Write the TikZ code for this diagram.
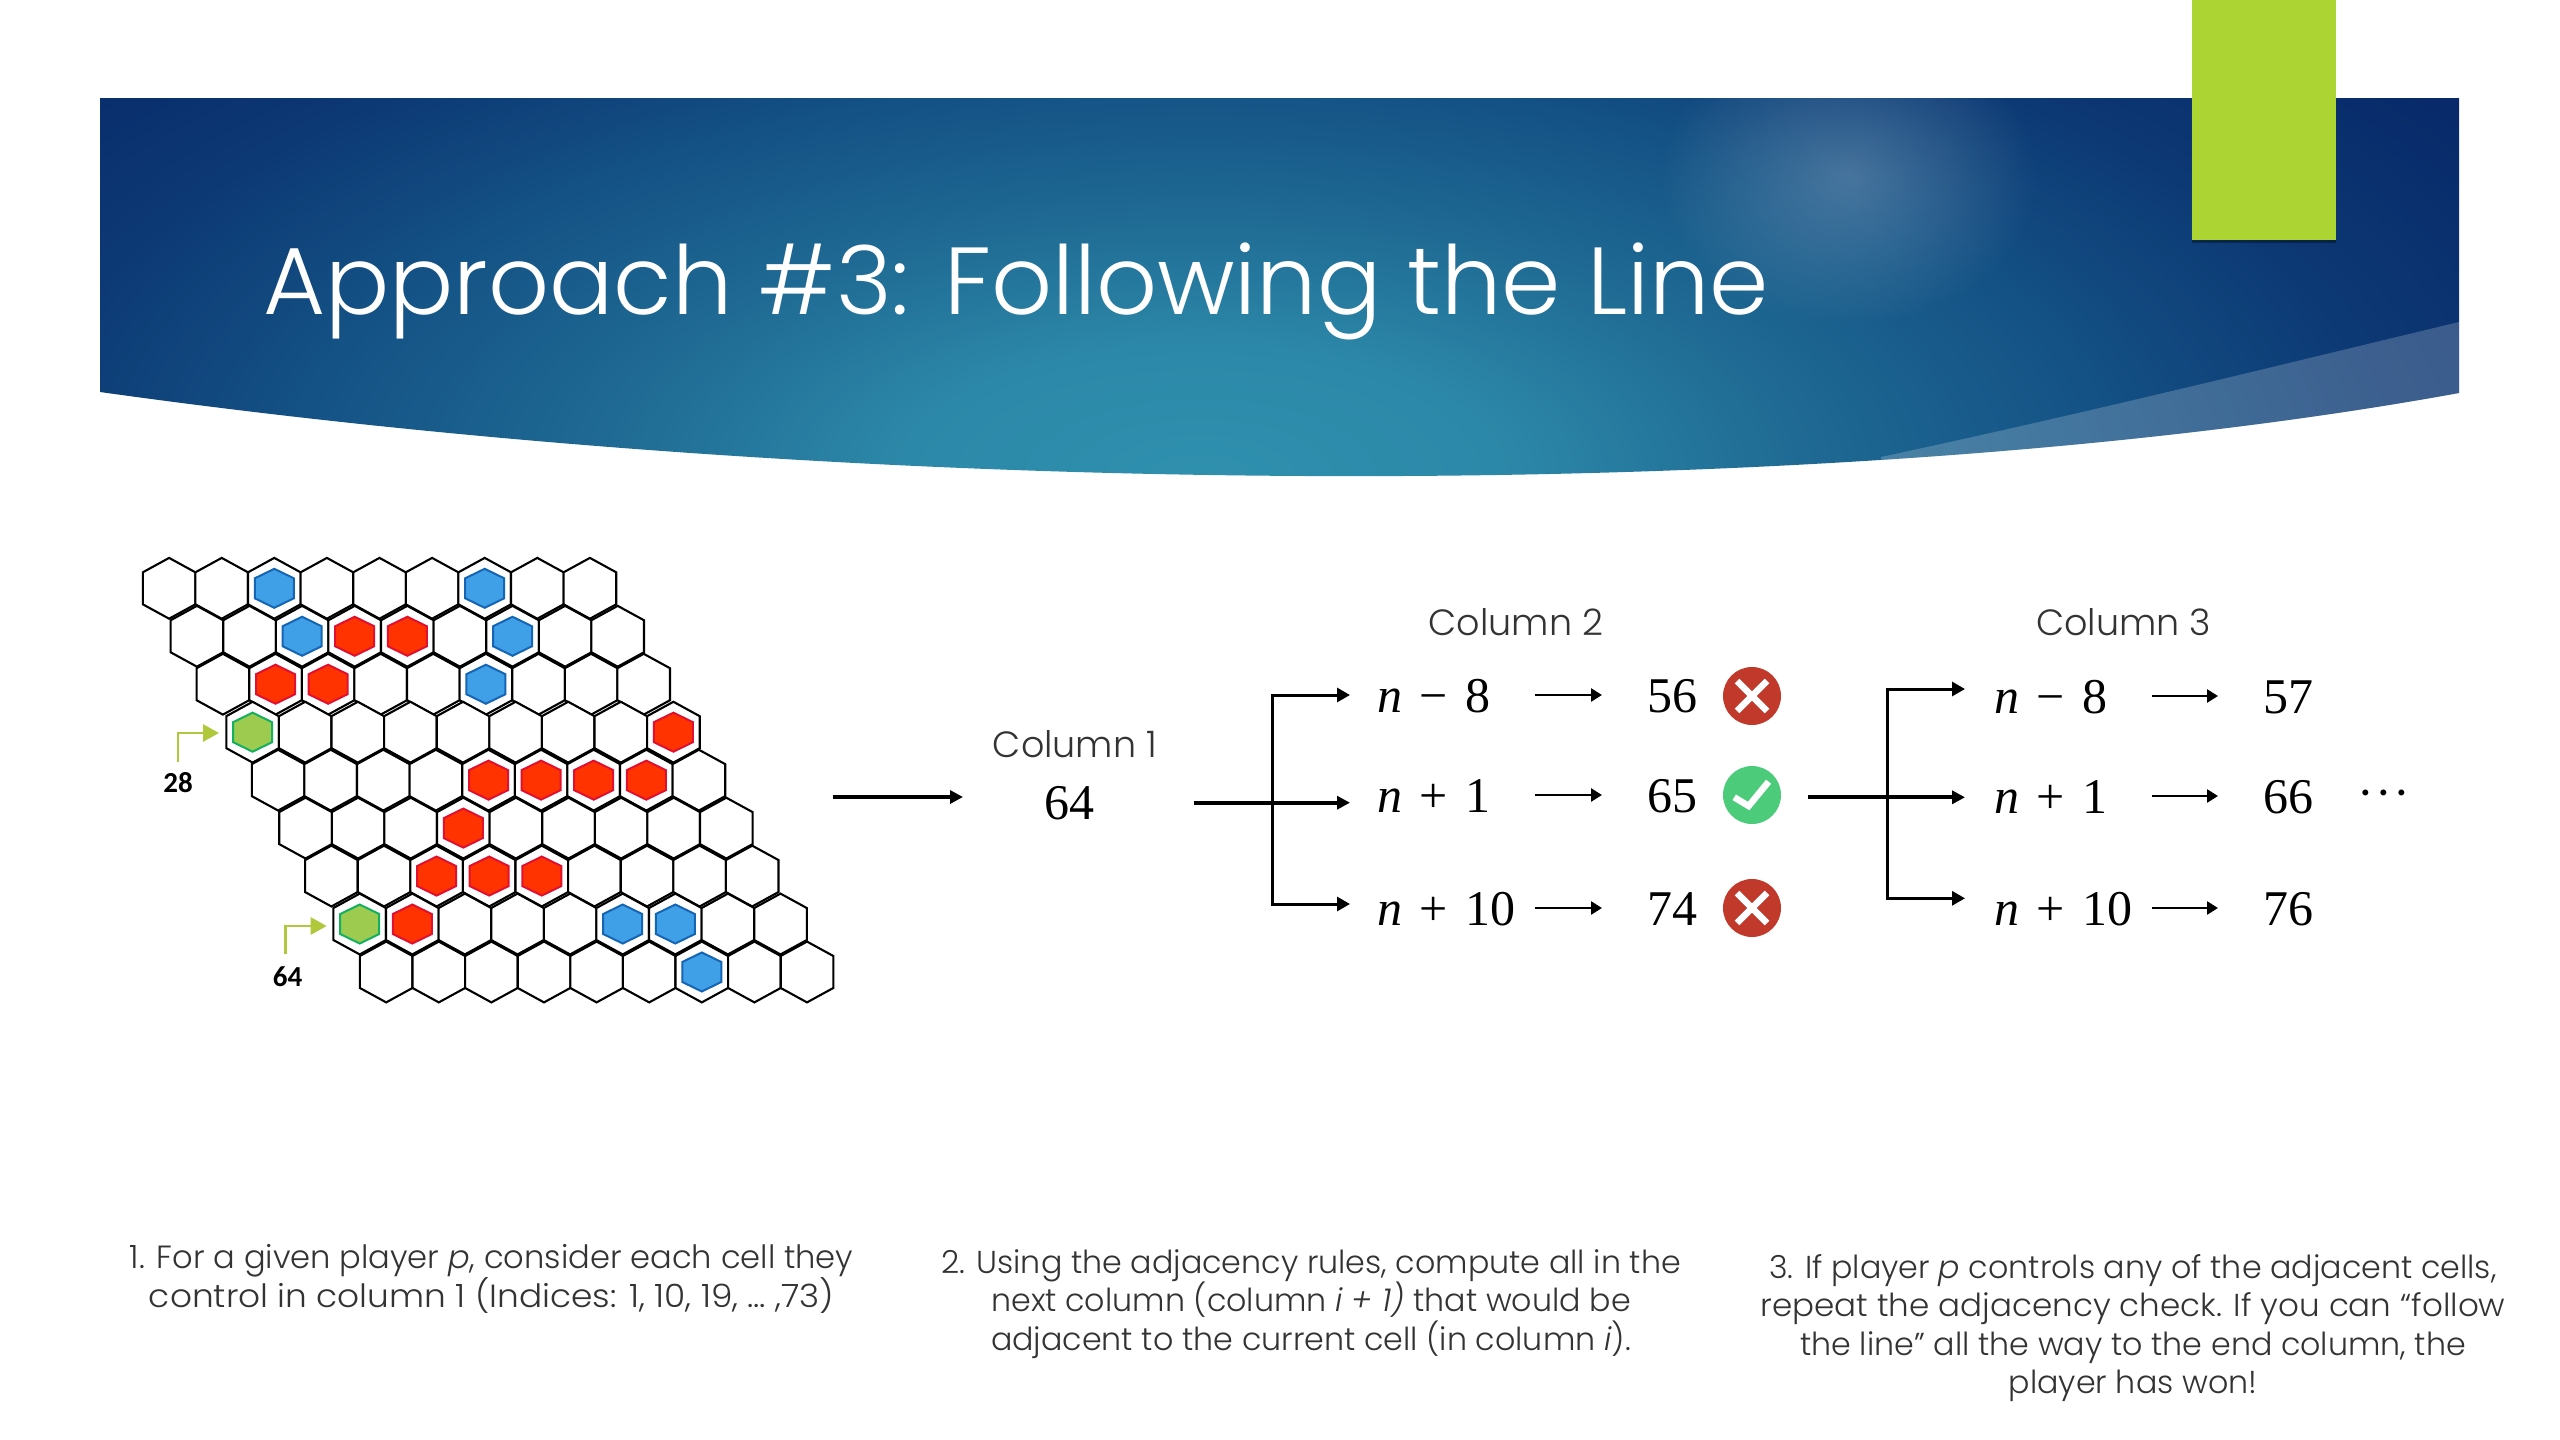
\documentclass[tikz,border=0pt]{standalone}
\usepackage{graphicx}
\usepackage{fontspec}
\usetikzlibrary{arrows.meta,fadings,calc}
\newfontfamily\gothic{Poppins}[UprightFont=* Light,ItalicFont=* Light Italic,BoldFont=*]
\newfontfamily\tagfont{Carlito}[UprightFont=* Bold]
\newfontfamily\numfont{Liberation Serif}
\definecolor{limeb}{HTML}{ACD433}
\definecolor{hexblue}{HTML}{3FA0E8}
\definecolor{hexblueb}{HTML}{1565B5}
\definecolor{hexred}{HTML}{FF3300}
\definecolor{hexredb}{HTML}{E01030}
\definecolor{hexgreen}{HTML}{9CCB50}
\definecolor{hexgreenb}{HTML}{12B060}
\definecolor{arrowlime}{HTML}{B0C83C}
\definecolor{badred}{HTML}{C0392B}
\definecolor{goodgreen}{HTML}{4CCB7A}
\definecolor{inktext}{HTML}{333333}
\definecolor{glowa}{RGB}{47,144,174}
\definecolor{glowb}{RGB}{44,136,168}
\definecolor{glowc}{RGB}{31,106,148}
\definecolor{glowd}{RGB}{20,82,133}
\definecolor{glowe}{RGB}{12,56,115}
\definecolor{glowf}{RGB}{8,42,106}
\pgfdeclareradialshading{bannerglow}{\pgfpoint{0bp}{0bp}}{%
  color(0bp)=(glowa);
  color(5bp)=(glowb);
  color(10bp)=(glowc);
  color(15bp)=(glowd);
  color(20bp)=(glowe);
  color(25bp)=(glowf);
  color(50bp)=(glowf)}
\tikzfading[name=softspot,inner color=transparent!78,outer color=transparent!100]
\newcommand{\varn}{\textit{n}}
\newcommand{\opsp}[1]{\hspace{.35em}#1\hspace{.35em}}
\tikzset{
  x=1pt,y=-1pt,
  every node/.style={inner sep=0pt,outer sep=0pt},
  headlab/.style={font=\gothic\fontsize{36.5}{42}\selectfont,text=inktext,anchor=center},
  bodytext/.style={font=\gothic\fontsize{31.7}{38.5}\selectfont,text=inktext,align=center,anchor=center},
  expr/.style={font=\numfont\fontsize{50}{60}\selectfont,anchor=west,text width=150pt,align=left,text height=34pt,text depth=0pt},
  val/.style={font=\numfont\fontsize{50}{60}\selectfont,anchor=center,minimum width=60pt,text height=34pt,text depth=0pt},
  trunk/.style={line width=4pt,-{Triangle[length=13pt,width=13pt]}},
  bar/.style={line width=3pt,-{Triangle[length=13pt,width=14pt]}},
  small/.style={line width=2.5pt,-{Triangle[length=11pt,width=13pt]},shorten <=8pt,shorten >=40pt},
  icon/.style={circle,minimum size=58pt,anchor=center},
  glyphmark/.style={white,line width=6.5pt},
  hexcell/.style={draw=black,fill=white,line width=2.1pt,line join=miter},
  pointer/.style={arrowlime,line width=2.8pt,-{Triangle[length=16pt,width=17pt]}},
  tag/.style={font=\tagfont\fontsize{29}{34}\selectfont,text=black,anchor=center},
}
\newcommand{\hexpath}[5]{(#1-#3,#2-#5)--(#1,#2-#4)--(#1+#3,#2-#5)--(#1+#3,#2+#5)--(#1,#2+#4)--(#1-#3,#2+#5)--cycle}
\def\rowx{{169.1,196.9,222.9,252.6,278.1,305.5,331.4,359.7,386.2}}
\newcommand{\stone}[4]{%
  \pgfmathsetmacro{\sx}{\rowx[#1-1]+52.6*(#2-1)}%
  \pgfmathsetmacro{\sy}{588.3+47.96*(#1-1)}%
  \draw[fill=#3,draw=#4,line width=2pt] \hexpath{\sx}{\sy}{19.5}{19.5}{10};}
\begin{document}
\begin{tikzpicture}
\useasboundingbox (0,0) rectangle (2560,1440);
\fill[white] (0,0) rectangle (2560,1440);
% banner
\begin{scope}
  \clip (100,98) -- (2459,98) -- (2459,393) .. controls (1850,504) and (900,504) .. (100,392) -- cycle;
  \shade[shading=bannerglow] (-300,-175) rectangle (2700,1125);
  \fill[white,path fading=softspot] (1848,177) ellipse (190 and 150);
  \fill[white,fill opacity=.2] (1881,457) .. controls (2100,410) and (2300,360) .. (2459,322) -- (2459,500) -- (1881,500) -- cycle;
\end{scope}
\fill[black,opacity=.35] (2192,240) rectangle (2336,243);
\fill[limeb] (2192,0) rectangle (2336,240);
\node[font=\gothic\fontsize{95.3}{110}\selectfont,text=white,anchor=base west] (title) at (263,314) {Approach \#3: Following the Line};
% board
\foreach \r in {1,...,9}{
  \foreach \c in {1,...,9}{
    \pgfmathsetmacro{\hx}{\rowx[\r-1]+52.6*(\c-1)}
    \pgfmathsetmacro{\hy}{588.3+47.96*(\r-1)}
    \draw[hexcell] \hexpath{\hx}{\hy}{26.3}{30.4}{16};
  }
}
\foreach \r/\c in {1/3,1/7,2/3,2/7,3/6,8/6,8/7,9/7}{\stone{\r}{\c}{hexblue}{hexblueb}}
\foreach \r/\c in {2/4,2/5,3/2,3/3,4/9,5/5,5/6,5/7,5/8,6/4,7/3,7/4,7/5,8/2}{\stone{\r}{\c}{hexred}{hexredb}}
\foreach \r/\c in {4/1,8/1}{\stone{\r}{\c}{hexgreen}{hexgreenb}}
\coordinate (pa0) at (178,762); \coordinate (pa1) at (219,733);
\coordinate (pb0) at (285.6,954); \coordinate (pb1) at (326.7,926);
\draw[pointer] (pa0) |- (pa1);
\draw[pointer] (pb0) |- (pb1);
\node[tag] (t28) at (178,783) {28};
\node[tag] (t64) at (287.5,977) {64};
% main arrow
\coordinate (ms) at (832.6,797); \coordinate (me) at (963,797);
\draw[trunk] (ms) -- (me);
% column 1
\node[headlab] (c1) at (1075,744) {Column 1};
\node[val] (v64) at (1069,802.7) {64};
% column 2
\node[headlab] (c2) at (1516,622) {Column 2};
\node[expr] (e21) at (1377,695) {\varn\opsp{−}8};
\node[expr] (e22) at (1377,795) {\varn\opsp{+}1};
\node[expr] (e23) at (1377,908) {\varn\opsp{+}10};
\node[val] (v21) at (1672,695) {56};
\node[val] (v22) at (1672,795) {65};
\node[val] (v23) at (1672,908) {74};
\foreach \i in {1,2,3}{\draw[small] (e2\i.east) -- (v2\i.west);}
\node[icon,fill=badred] (i21) at (1752,696) {};
\node[icon,fill=goodgreen] (i22) at (1752,795) {};
\node[icon,fill=badred] (i23) at (1752,908) {};
\foreach \n in {i21,i23}{
  \draw[glyphmark] ($(\n)+(-15,-15)$) -- ($(\n)+(15,15)$);
  \draw[glyphmark] ($(\n)+(-15,15)$) -- ($(\n)+(15,-15)$);
}
\draw[glyphmark] ($(i22)+(-17.8,2.3)$) -- ($(i22)+(-3.4,11)$) -- ($(i22)+(16.6,-13.3)$);
\coordinate (j2) at (1272.9,802.7);
\coordinate (t21) at (1350,695); \coordinate (t22) at (1350,802.7); \coordinate (t23) at (1350,904);
\draw[trunk,shorten <=95pt] (v64.east) -- (t22);
\draw[bar] (j2) |- (t21);
\draw[bar] (j2) |- (t23);
% column 3
\node[headlab] (c3) at (2123.5,622) {Column 3};
\node[expr] (e31) at (1994,696) {\varn\opsp{−}8};
\node[expr] (e32) at (1994,796) {\varn\opsp{+}1};
\node[expr] (e33) at (1994,908) {\varn\opsp{+}10};
\node[val] (v31) at (2288,696) {57};
\node[val] (v32) at (2288,796) {66};
\node[val] (v33) at (2288,908) {76};
\foreach \i in {1,2,3}{\draw[small] (e3\i.east) -- (v3\i.west);}
\node[font=\numfont\fontsize{50}{60}\selectfont,anchor=center] (dots) at (2384,800) {·\hspace{1.5pt}·\hspace{1.5pt}·};
\coordinate (s3) at (1808,797.3); \coordinate (j3) at (1887,797.3);
\coordinate (t31) at (1965,689); \coordinate (t32) at (1965,797.3); \coordinate (t33) at (1965,898.3);
\draw[trunk] (s3) -- (t32);
\draw[bar] (j3) |- (t31);
\draw[bar] (j3) |- (t33);
% captions
\node[bodytext,font=\gothic\fontsize{32.1}{38.5}\selectfont] (b1) at (491.6,1279) {1. For a given player \textit{p}, consider each cell they\\\scalebox{1.07}[1]{control in column 1 (Indices: 1, 10, 19, … ,73)}};
\node[bodytext] (b2) at (1311,1304) {2. Using the adjacency rules, compute all in the\\next column (column \textit{i + 1)} that would be\\adjacent to the current cell (in column \textit{i}).};
\node[bodytext] (b3) at (2133,1328) {3. If player \textit{p} controls any of the adjacent cells,\\\scalebox{1.027}[1]{repeat the adjacency check. If you can “follow}\\the line” all the way to the end column, the\\player has won!};
\end{tikzpicture}
\end{document}
